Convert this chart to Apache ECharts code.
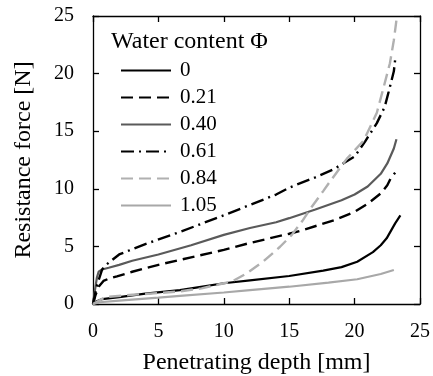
<!DOCTYPE html>
<html>
<head>
<meta charset="utf-8">
<script src="https://cdn.jsdelivr.net/npm/echarts@6/dist/echarts.min.js"></script>
<style>html,body{margin:0;padding:0;background:#fff}#c{width:433px;height:376px}</style>
</head>
<body>
<div id="c"></div>
<script>
// Tick values
var xTicks = [0, 5, 10, 15, 20, 25];
var yTicks = [0, 5, 10, 15, 20, 25];
var seriesNames = ['0', '0.21', '0.40', '0.61', '0.84', '1.05'];

// Phi = 0
var depth0 = [0, 0.2, 0.7, 2, 4, 6.65, 8, 10, 12, 15, 17.6, 19, 20.2, 21.4, 22, 22.45, 23.1, 23.5];
var force0 = [0, 0.2, 0.43, 0.6, 0.9, 1.2, 1.45, 1.8, 2.05, 2.43, 2.9, 3.2, 3.67, 4.5, 5.1, 5.7, 7.0, 7.7];
// Phi = 0.21
var depth021 = [0, 0.2, 0.43, 0.8, 1.2, 1.83, 3, 5, 7.5, 10, 12, 15, 16, 18.5, 20, 21, 22, 22.5, 22.8, 23.1];
var force021 = [0, 0.8, 1.5, 2.0, 2.2, 2.4, 2.8, 3.4, 4.05, 4.7, 5.3, 6.1, 6.4, 7.3, 8.0, 8.7, 9.6, 10.3, 11.0, 11.4];
// Phi = 0.40
var depth040 = [0, 0.15, 0.3, 0.43, 0.7, 1.2, 2, 3, 5, 7.5, 10, 12, 14, 15, 17, 19, 20, 21, 22, 22.5, 23, 23.2];
var force040 = [0, 1.2, 2.3, 2.8, 3.0, 3.15, 3.4, 3.75, 4.3, 5.1, 6.0, 6.6, 7.1, 7.45, 8.2, 9.0, 9.5, 10.2, 11.3, 12.2, 13.5, 14.3];
// Phi = 0.61
var depth061 = [0, 0.3, 0.7, 1, 2, 4, 6.75, 10, 12, 14, 15, 17, 18.4, 20, 20.8, 21.7, 22.3, 22.6, 23, 23.1];
var force061 = [0, 1.6, 3.0, 3.4, 4.3, 5.2, 6.3, 7.7, 8.6, 9.5, 10.1, 11.0, 11.7, 12.8, 14.1, 15.7, 17.1, 18.4, 20.2, 21.2];
// Phi = 0.84
var depth084 = [0, 0.94, 3, 5, 6.65, 8.3, 10, 10.6, 11.75, 13, 14.3, 15.2, 16, 16.7, 17.6, 18.1, 19.4, 20.7, 21.7, 22.1, 22.7, 23, 23.2, 23.3];
var force084 = [0, 0.6, 0.8, 0.95, 1.1, 1.36, 1.8, 1.94, 2.66, 3.67, 4.97, 6.0, 7.2, 8.4, 9.8, 10.6, 12.6, 14.2, 16.6, 18.3, 20.9, 22.9, 24.65, 25];
// Phi = 1.05
var depth105 = [0, 0.5, 2, 5, 6.65, 10, 12, 15, 18, 20.2, 21.4, 22, 23];
var force105 = [0, 0.15, 0.3, 0.55, 0.7, 1.0, 1.2, 1.5, 1.85, 2.15, 2.45, 2.6, 2.95];

function pairs(xs, ys) { return xs.map(function (x, i) { return [x, ys[i]]; }); }

var FONT = 'Liberation Serif';
var chart = echarts.init(document.getElementById('c'));

function axisBase(extra) {
  var a = {
    type: 'value', min: 0, max: 25, interval: 5,
    axisLine: { show: true, onZero: false, lineStyle: { color: '#000', width: 1.3 } },
    axisTick: { show: true, inside: true, length: 6, lineStyle: { color: '#000', width: 1.3 } },
    splitLine: { show: false },
    axisLabel: { show: false }
  };
  for (var k in extra) a[k] = extra[k];
  return a;
}

var styles = [
  { color: '#000000', type: 'solid', width: 2.2 },
  { color: '#000000', type: [12, 6], width: 2.4 },
  { color: '#5a5a5a', type: 'solid', width: 2.2 },
  { color: '#000000', type: [13, 5, 2, 5], width: 2.4 },
  { color: '#b0b0b0', type: [12, 6], width: 2.4 },
  { color: '#a8a8a8', type: 'solid', width: 2.2 }
];
var dataSets = [
  pairs(depth0, force0), pairs(depth021, force021), pairs(depth040, force040),
  pairs(depth061, force061), pairs(depth084, force084), pairs(depth105, force105)
];

var option = {
  animation: false,
  backgroundColor: '#fff',
  title: {
    text: 'Water content \u03A6', left: 111, top: 30, padding: 0,
    textStyle: { fontFamily: FONT, fontSize: 24, fontWeight: 'normal', color: '#000' }
  },
  legend: {
    orient: 'vertical', left: 120, top: 60, padding: 0,
    itemWidth: 50, itemHeight: 14, itemGap: 6,
    itemStyle: { opacity: 0 },
    data: seriesNames,
    textStyle: { fontFamily: FONT, fontSize: 21, color: '#000', lineHeight: 20, padding: [0, 0, 0, 4] }
  },
  grid: { left: 93, right: 13, top: 16, bottom: 72, containLabel: false, outerBoundsMode: 'none' },
  xAxis: [
    axisBase({
      position: 'bottom',
      axisLabel: { show: true, margin: 18, fontFamily: FONT, fontSize: 20, color: '#000',
        formatter: function (v) { return xTicks.indexOf(v) >= 0 ? String(v) : ''; } },
      name: 'Penetrating depth [mm]', nameLocation: 'middle', nameGap: 47,
      nameTextStyle: { fontFamily: FONT, fontSize: 24, color: '#000' }
    }),
    axisBase({ position: 'top' })
  ],
  yAxis: [
    axisBase({
      position: 'left',
      axisLabel: { show: true, margin: 19, fontFamily: FONT, fontSize: 20, color: '#000',
        formatter: function (v) { return yTicks.indexOf(v) >= 0 ? String(v) : ''; } },
      name: 'Resistance force [N]', nameLocation: 'middle', nameGap: 57,
      nameTextStyle: { fontFamily: FONT, fontSize: 24, color: '#000' }
    }),
    axisBase({ position: 'right' })
  ],
  series: seriesNames.map(function (n, i) {
    return {
      name: n, type: 'line', xAxisIndex: 0, yAxisIndex: 0,
      data: dataSets[i], symbol: 'none', showSymbol: false, smooth: false,
      lineStyle: styles[i], itemStyle: { color: styles[i].color }, clip: true
    };
  })
};
chart.setOption(option);
</script>
</body>
</html>
